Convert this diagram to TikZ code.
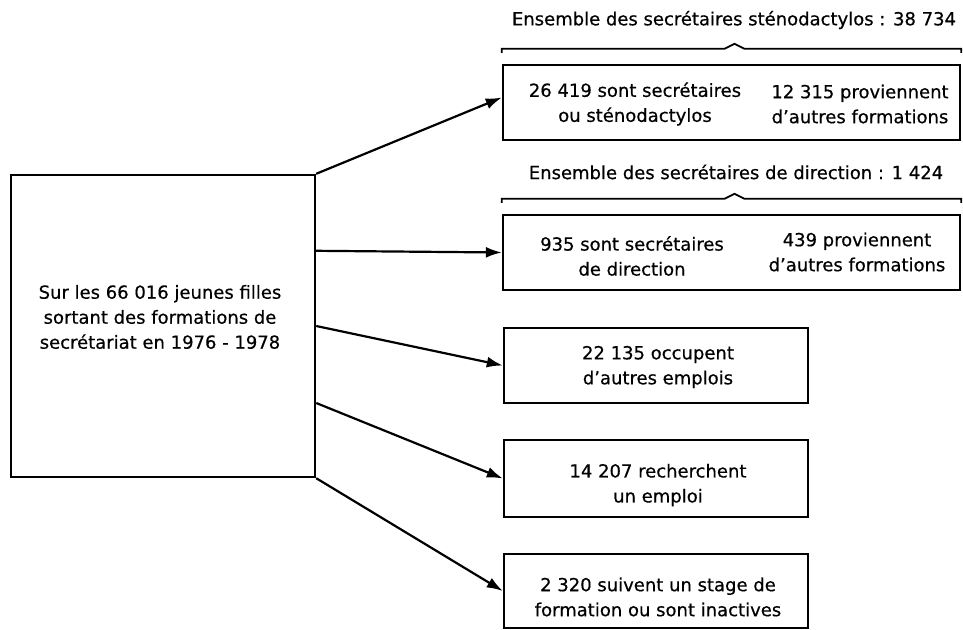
\documentclass[tikz,border=0pt]{standalone}
\usepackage{fontspec}
\setmainfont{DejaVu Sans}[FakeBold=0.5]
\usetikzlibrary{arrows.meta,calc}
\begin{document}
\begin{tikzpicture}[x=0.5pt,y=-0.5pt,
  box/.style={draw,line width=1.2pt,inner sep=0pt},
  txt/.style={font=\fontsize{9}{12.5}\selectfont,align=center,inner sep=0pt},
  arr/.style={line width=1.1pt,-{Latex[length=8pt,width=5.5pt]}},
  brace/.style={line width=0.9pt}]
\useasboundingbox (0,0) rectangle (963,630);
% source box
\node[box,minimum width=152pt,minimum height=151pt] (src) at (163,326) {};
\node[txt] (srct) at (160,317) {Sur les 66 016 jeunes filles\\sortant des formations de\\secrétariat en 1976 - 1978};
% target boxes
\node[box,minimum width=228.5pt,minimum height=37.5pt] (b1) at (731.5,102.5) {};
\node[box,minimum width=228.5pt,minimum height=37.5pt] (b2) at (731.5,252.5) {};
\node[box,minimum width=152pt,minimum height=37.5pt] (b3) at (656,365.5) {};
\node[box,minimum width=152pt,minimum height=38.5pt] (b4) at (656,478.5) {};
\node[box,minimum width=152pt,minimum height=37pt] (b5) at (656,591) {};
% texts
\node[txt] (b1l) at (635,104) {26 419 sont secrétaires\\ou sténodactylos};
\node[txt] (b1r) at (860,104) {12 315 proviennent\\d'autres formations};
\node[txt] (b2l) at (632,256) {935 sont secrétaires\\de direction};
\node[txt] (b2r) at (857,252) {439 proviennent\\d'autres formations};
\node[txt] (b3t) at (658,367) {22 135 occupent\\d'autres emplois};
\node[txt] (b4t) at (658,485) {14 207 recherchent\\un emploi};
\node[txt] (b5t) at (658,597) {2 320 suivent un stage de\\formation ou sont inactives};
% titles
\node[txt] (t1) at (734,20) {Ensemble des secrétaires sténodactylos : 38 734};
\node[txt] (t2) at (736,172) {Ensemble des secrétaires de direction : 1 424};
% braces
\draw[brace] ($(b1.north west)+(0,-11)$) |- ($(b1.north)+(-7,-15)$) -- ($(b1.north)+(3,-20)$) -- ($(b1.north)+(13,-15)$) -| ($(b1.north east)+(0,-11)$);
\draw[brace] ($(b2.north west)+(0,-11)$) |- ($(b2.north)+(-7,-15)$) -- ($(b2.north)+(3,-20)$) -- ($(b2.north)+(13,-15)$) -| ($(b2.north east)+(0,-11)$);
% arrows
\draw[arr] (src.north east) -- ($(b1.west)+(0,-5)$);
\draw[arr] ($(src.north east)+(0,77)$) -- (b2.west);
\draw[arr] (src.east) -- (b3.west);
\draw[arr] ($(src.east)+(0,77)$) -- (b4.west);
\draw[arr] (src.south east) -- (b5.west);
\end{tikzpicture}
\end{document}
